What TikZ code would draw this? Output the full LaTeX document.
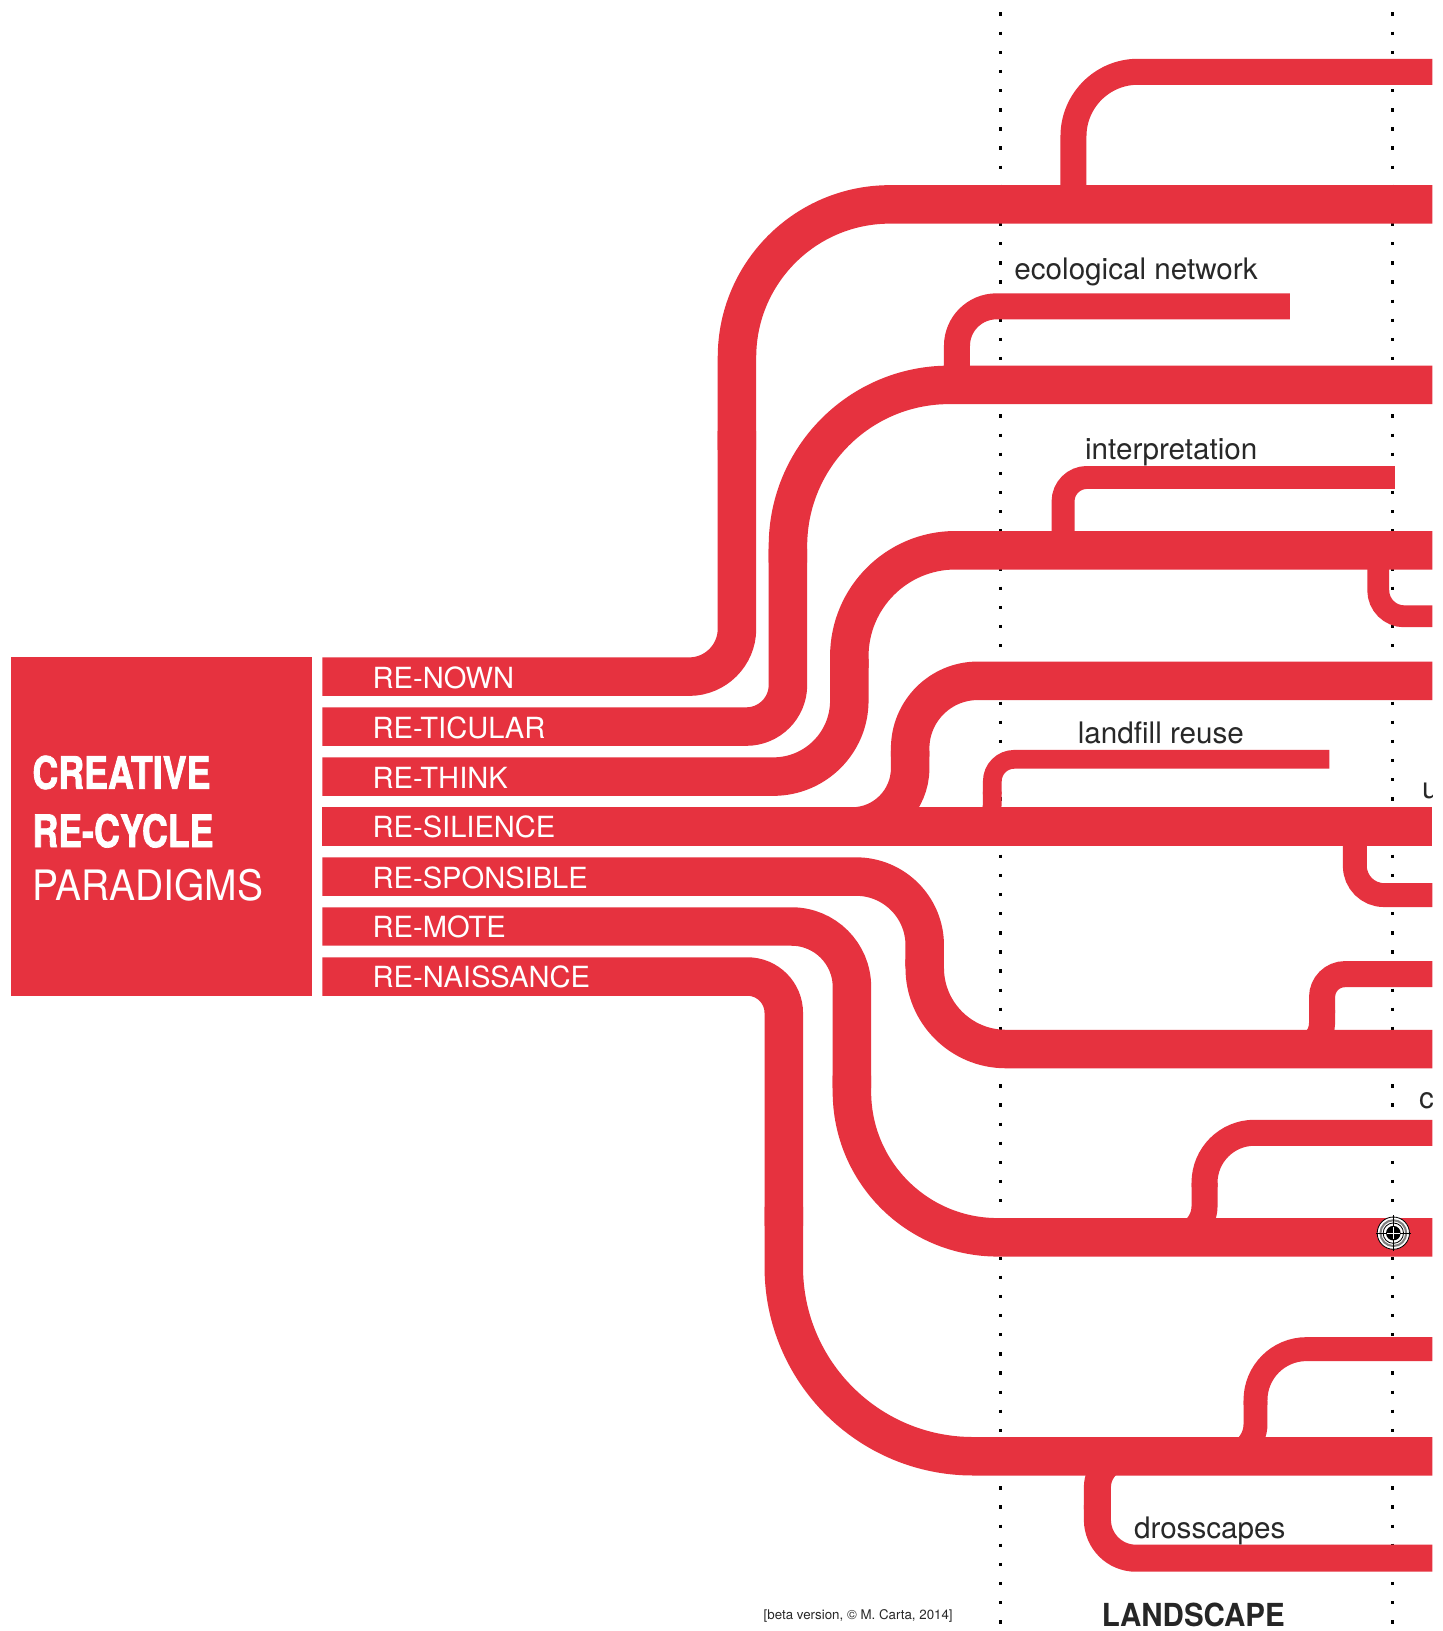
\documentclass[tikz,border=0pt]{standalone}
\usepackage{fontspec}
\setmainfont{TeX Gyre Heros}
\newfontfamily\condfont[FakeStretch=0.8,FakeBold=1.6]{TeX Gyre Heros}
\newfontfamily\narrowfont[FakeStretch=0.93]{TeX Gyre Heros}
\definecolor{recycle}{RGB}{230,50,63}
\definecolor{ink}{RGB}{40,40,40}
% width, start x, start y, turn x, end y, end x, first radius, second radius
\newcommand{\strand}[8][37]{
  \draw[line width=#1pt, rounded corners=#7pt] (#2,#3) -- (#4,#3) -- (#4,{0.48*#3+0.52*#5});
  \draw[line width=#1pt, rounded corners=#8pt] (#4,{0.52*#3+0.48*#5}) -- (#4,#5) -- (#6,#5);
}
% width, turn x, start y, end y, end x, radius
\newcommand{\twig}[6]{\draw[line width=#1pt, rounded corners=#6pt] (#2,#3) -- (#2,#4) -- (#5,#4);}

\begin{document}
\begin{tikzpicture}[
      x=1pt, y=-1pt,
      guide/.style={line width=3.2pt, dash pattern=on 3.2pt off 15.2pt},
      flow/.style={recycle},
      paradigm/.style={anchor=base west, inner sep=0, text=white, font=\fontsize{28}{30}\selectfont},
      title/.style={anchor=base west, inner sep=0, text=white},
      note/.style={anchor=base west, inner sep=0, text=ink, font=\fontsize{28.5}{30}\selectfont}
      ]
      \fill[white] (0,0) rectangle (1387,1568);
      \useasboundingbox (0,0) rectangle (1387,1568);

      % dotted guides
      \draw[guide] (962,12) -- (962,1568);
      \draw[guide] (1338.5,12) -- (1338.5,1568);

      % main strands
      \begin{scope}[flow]
        \strand{310}{650.5}{708.5}{196.5}{1377}{46}{147}
        \strand{310}{698.5}{757.5}{370}{1377}{40}{155}
        \strand{310}{746.6}{816.5}{529}{1377}{73}{102}
        \draw[line width=37pt] (310,794.6) -- (1377,794.6);
        \strand{310}{842.7}{889}{1008.5}{1377}{66}{78}
        \strand{310}{890.7}{819}{1189.5}{1377}{58}{140}
        \strand{310}{938.8}{753.5}{1400}{1377}{35}{182}

        % side branches
        \strand{790}{794.6}{875}{654.5}{1377}{56}{65}
        \strand[18]{915}{794.6}{954}{730}{1278}{22}{21}
        \strand[25]{1235}{1008.5}{1271}{936.5}{1377}{25}{22}
        \strand[25]{1110}{1189.5}{1158}{1089}{1377}{30}{48}
        \strand[23]{1160}{1400}{1207}{1297}{1377}{31}{49}
        \strand[26]{1110}{1400}{1055}{1498}{1377}{30}{37}
        \twig{25}{1032}{196.5}{69}{1377}{62}
        \twig{25}{920}{370}{294.5}{1240}{38}
        \twig{22}{1022}{529}{459}{1341}{23}
        \twig{21}{1325}{529}{592.5}{1377}{25}
        \twig{23}{1302.5}{794.6}{860.5}{1377}{28}
      \end{scope}

      % left panel
      \node[fill=recycle, minimum width=289pt, minimum height=325.5pt, inner sep=0, anchor=north west] (panel) at (10.5,631.8) {};
      \node[title, font=\condfont\bfseries\fontsize{43}{45}\selectfont] (creative) at (31,758.3) {CREATIVE};
      \node[title, font=\condfont\bfseries\fontsize{43}{45}\selectfont] (recycle) at (31,814.4) {RE-CYCLE};
      \node[title, font=\narrowfont\fontsize{40.3}{42}\selectfont] (paradigms) at (31,866) {PARADIGMS};

      % paradigm labels
      \node[paradigm] (nown) at (358,661.5) {RE-NOWN};
      \node[paradigm] (ticular) at (358,709.5) {RE-TICULAR};
      \node[paradigm] (think) at (358,757.6) {RE-THINK};
      \node[paradigm] (silience) at (358,805.6) {RE-SILIENCE};
      \node[paradigm] (sponsible) at (358,853.7) {RE-SPONSIBLE};
      \node[paradigm] (mote) at (358,901.7) {RE-MOTE};
      \node[paradigm] (naissance) at (358,949.8) {RE-NAISSANCE};

      % topics
      \node[note] (ecological) at (975,268.5) {ecological network};
      \node[note] (interpretation) at (1043,442) {interpretation};
      \node[note] (landfill) at (1036,714.5) {landfill reuse};
      \node[note] (drosscapes) at (1090,1479) {drosscapes};
      \begin{scope}
        \clip (1300,700) rectangle (1377,1120);
        \node[note] (urest) at (1367,767.5) {u};
        \node[note] (crest) at (1364,1065.5) {c};
      \end{scope}

      % target mark
      \node[draw=black, line width=0.8pt, fill=white, circle, minimum size=31pt, inner sep=0] (target) at (1339.5,1185.5) {};
      \draw[gray, line width=2pt] (target.center) circle[radius=12.4pt];
      \draw[line width=0.8pt] (target.center) circle[radius=9.8pt];
      \fill (target.center) circle[radius=7pt];
      \draw[line width=0.8pt] ([yshift=17pt]target.center) -- ([yshift=-17pt]target.center);
      \draw[line width=0.8pt] ([xshift=17pt]target.center) -- ([xshift=-17pt]target.center);
      \draw[white, line width=0.8pt] ([yshift=6pt]target.center) -- ([yshift=-6pt]target.center);
      \draw[white, line width=0.8pt] ([xshift=6pt]target.center) -- ([xshift=-6pt]target.center);

      % footer
      \node[anchor=base west, inner sep=0, text=ink, font=\fontsize{12.8}{14}\selectfont] (credit) at (734,1556.5) {[beta version, © M. Carta, 2014]};
      \node[anchor=base west, inner sep=0, text=black!85, font=\narrowfont\bfseries\fontsize{30.5}{32}\selectfont] (landscape) at (1059,1564) {LANDSCAPE};
    \end{tikzpicture}
\end{document}
